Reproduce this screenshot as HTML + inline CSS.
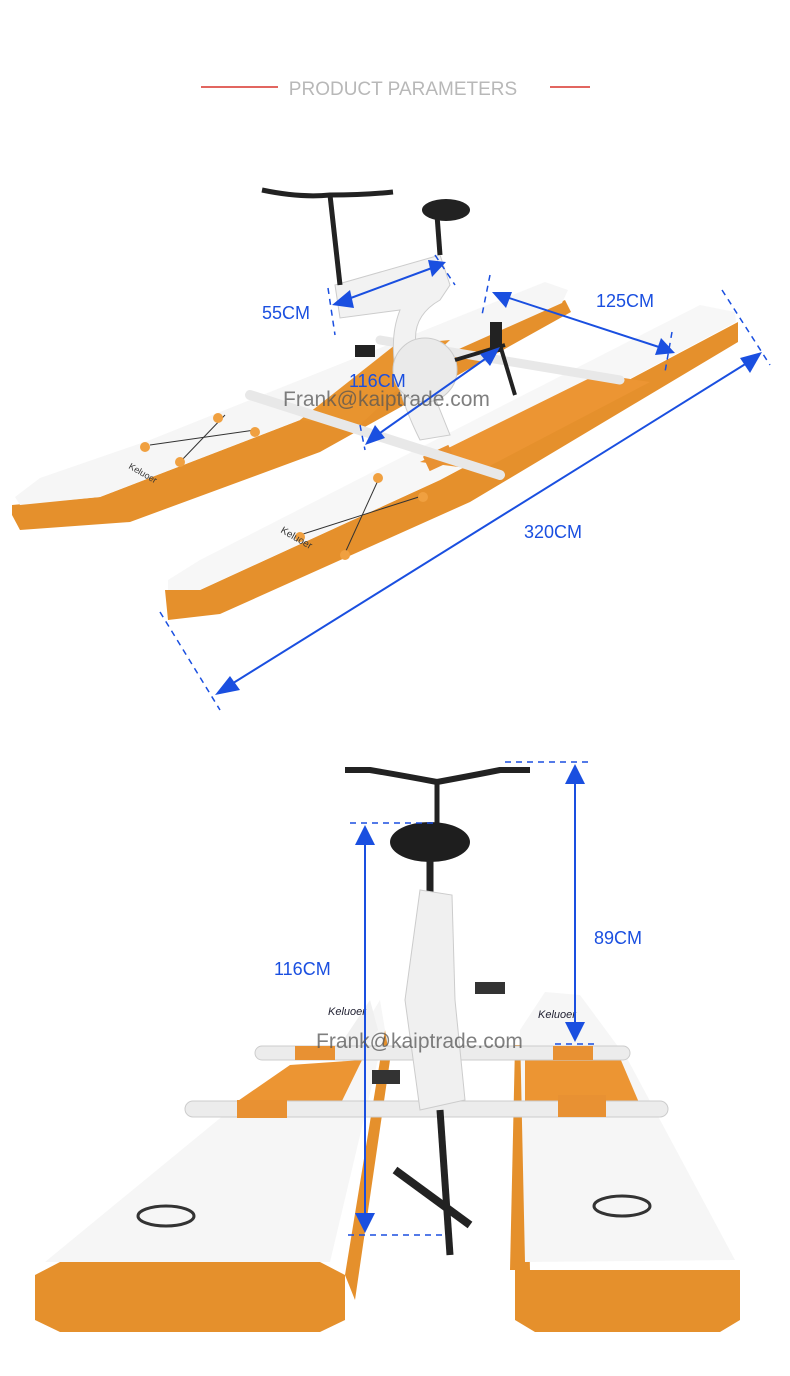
<!DOCTYPE html>
<html><head><meta charset="utf-8"><style>
html,body{margin:0;padding:0;background:#fff;}
svg{display:block;}
text{font-family:"Liberation Sans",sans-serif;}
</style></head><body>
<svg width="790" height="1376" viewBox="0 0 790 1376" xmlns="http://www.w3.org/2000/svg">
<rect width="790" height="1376" fill="#fff"/>
<!-- title -->
<line x1="201" y1="87" x2="278" y2="87" stroke="#d9342b" stroke-width="1.5"/>
<line x1="550" y1="87" x2="590" y2="87" stroke="#d9342b" stroke-width="1.5"/>
<text x="403" y="95" font-size="19" fill="#b8b8b8" text-anchor="middle">PRODUCT PARAMETERS</text>

<!-- TOP IMAGE -->
<!-- back pontoon -->
<polygon points="12,505 100,497 300,420 565,300 571,312 320,452 130,522 20,530 12,515" fill="#e5902c"/>
<polygon points="15,497 40,478 150,440 545,282 568,290 562,303 300,420 100,497 20,505" fill="#f6f6f6"/>
<polygon points="300,420 395,345 450,340 360,425" fill="#e8942f"/>
<!-- front pontoon -->
<polygon points="165,590 200,590 440,480 738,322 738,342 470,502 220,614 168,620" fill="#e5902c"/>
<polygon points="168,580 200,560 700,305 735,312 736,322 440,480 200,590 168,590" fill="#f7f7f7"/>
<polygon points="420,462 598,374 650,382 482,470" fill="#ec9533"/>
<rect x="425" y="450" width="28" height="16" fill="#e89133" transform="rotate(-25 439 458)"/>
<!-- rope X marks -->
<g stroke="#333" stroke-width="1">
<line x1="150" y1="445" x2="255" y2="430"/><line x1="180" y1="462" x2="225" y2="415"/>
<line x1="300" y1="535" x2="425" y2="495"/><line x1="345" y1="553" x2="380" y2="476"/>
</g>
<g fill="#f0a040">
<circle cx="218" cy="418" r="5"/><circle cx="255" cy="432" r="5"/><circle cx="145" cy="447" r="5"/><circle cx="180" cy="462" r="5"/>
<circle cx="378" cy="478" r="5"/><circle cx="423" cy="497" r="5"/><circle cx="300" cy="537" r="5"/><circle cx="345" cy="555" r="5"/>
</g>
<text x="128" y="468" font-size="9" fill="#333" transform="rotate(30 128 468)">Keluoer</text>
<text x="280" y="532" font-size="10" fill="#333" transform="rotate(30 280 532)">Keluoer</text>
<!-- cross bars -->
<line x1="250" y1="395" x2="500" y2="475" stroke="#e8e8e8" stroke-width="10" stroke-linecap="round"/>
<line x1="380" y1="340" x2="620" y2="380" stroke="#e8e8e8" stroke-width="9" stroke-linecap="round"/>
<!-- bike frame -->
<path d="M335,285 L440,255 L450,285 L440,300 Q405,320 420,360 L450,435 L420,440 Q380,360 400,310 L340,318 Z" fill="#f2f2f2" stroke="#ccc"/>
<circle cx="425" cy="370" r="32" fill="#eaeaea" stroke="#ccc"/>
<line x1="330" y1="195" x2="340" y2="285" stroke="#222" stroke-width="5"/>
<path d="M262,190 Q300,198 330,195 Q365,195 393,192" stroke="#222" stroke-width="5" fill="none"/>
<line x1="437" y1="215" x2="440" y2="255" stroke="#222" stroke-width="5"/>
<ellipse cx="446" cy="210" rx="24" ry="11" fill="#222"/>
<rect x="355" y="345" width="20" height="12" fill="#222"/><rect x="490" y="322" width="12" height="30" fill="#222"/>
<line x1="455" y1="360" x2="505" y2="345" stroke="#222" stroke-width="4"/>
<line x1="500" y1="345" x2="515" y2="395" stroke="#222" stroke-width="4"/>
<!-- dimension lines top -->
<g stroke="#1a4fe0" stroke-width="2" fill="none">
<line x1="340" y1="302" x2="440" y2="265"/>
<line x1="500" y1="295" x2="668" y2="350"/>
<line x1="370" y1="440" x2="495" y2="352"/>
<line x1="222" y1="690" x2="755" y2="358"/>
</g>
<g stroke="#1a4fe0" stroke-width="1.5" stroke-dasharray="6,5">
<line x1="328" y1="288" x2="335" y2="335"/><line x1="435" y1="255" x2="455" y2="285"/>
<line x1="490" y1="275" x2="482" y2="315"/><line x1="672" y1="332" x2="665" y2="372"/>
<line x1="160" y1="612" x2="220" y2="710"/><line x1="722" y1="290" x2="770" y2="365"/>
<line x1="360" y1="425" x2="365" y2="450"/>
</g>
<g fill="#1a4fe0">
<polygon points="332,305 350,290 354,308"/><polygon points="446,262 428,260 432,277"/>
<polygon points="492,292 512,292 506,308"/><polygon points="675,353 655,355 661,338"/>
<polygon points="365,445 375,425 385,438"/><polygon points="500,347 480,354 490,366"/>
<polygon points="215,695 230,676 240,690"/><polygon points="762,352 740,358 750,373"/>
</g>
<g font-size="18" fill="#1a4fe0">
<text x="262" y="319">55CM</text>
<text x="596" y="307">125CM</text>
<text x="349" y="387">116CM</text>
<text x="524" y="538">320CM</text>
</g>
<text x="283" y="406" font-size="21" fill="#555" opacity="0.75">Frank@kaiptrade.com</text>

<!-- BOTTOM IMAGE -->
<!-- left pontoon -->
<polygon points="35,1275 60,1262 320,1262 345,1275 345,1320 320,1332 60,1332 35,1320" fill="#e5902c"/>
<polygon points="345,1275 385,1030 390,1060 355,1300" fill="#e5902c"/>
<polygon points="45,1262 230,1110 340,1065 380,1000 385,1030 330,1262" fill="#f6f6f6"/>
<polygon points="232,1105 290,1065 362,1060 340,1105" fill="#ec9533"/>
<!-- right pontoon -->
<polygon points="515,1270 740,1270 740,1320 720,1332 535,1332 515,1320" fill="#e5902c"/>
<polygon points="515,1045 510,1270 530,1270 525,1045" fill="#e5902c"/>
<polygon points="520,1030 545,992 580,995 628,1060 735,1260 525,1262" fill="#f6f6f6"/>
<polygon points="525,1060 620,1058 640,1105 525,1105" fill="#ec9533"/>
<polygon points="370,1000 378,1030 355,1060 330,1060" fill="#f0f0f0"/>
<!-- logos -->
<ellipse cx="166" cy="1216" rx="28" ry="10" fill="none" stroke="#333" stroke-width="3"/>
<ellipse cx="622" cy="1206" rx="28" ry="10" fill="none" stroke="#333" stroke-width="3"/>
<text x="328" y="1015" font-size="11" fill="#223" font-style="italic">Keluoer</text>
<text x="538" y="1018" font-size="11" fill="#223" font-style="italic">Keluoer</text>
<!-- bars -->
<rect x="255" y="1046" width="375" height="14" rx="7" fill="#ececec" stroke="#ccc"/>
<rect x="185" y="1101" width="483" height="16" rx="8" fill="#ececec" stroke="#ccc"/>
<rect x="237" y="1100" width="50" height="18" fill="#e89133"/>
<rect x="558" y="1095" width="48" height="22" fill="#e89133"/>
<rect x="295" y="1046" width="40" height="14" fill="#e89133"/>
<rect x="553" y="1046" width="40" height="14" fill="#e89133"/>
<!-- bike -->
<path d="M345,770 L370,770 Q400,775 437,782 Q475,775 500,770 L530,770" stroke="#222" stroke-width="6" fill="none"/>
<line x1="437" y1="780" x2="437" y2="830" stroke="#222" stroke-width="5"/>
<ellipse cx="430" cy="842" rx="40" ry="20" fill="#1e1e1e"/>
<line x1="430" y1="860" x2="430" y2="900" stroke="#222" stroke-width="7"/>
<path d="M420,890 L452,895 L455,1000 L465,1100 L420,1110 L405,1000 Z" fill="#f0f0f0" stroke="#ccc"/>
<line x1="440" y1="1110" x2="450" y2="1255" stroke="#222" stroke-width="7"/>
<line x1="395" y1="1170" x2="470" y2="1225" stroke="#222" stroke-width="8"/>
<rect x="475" y="982" width="30" height="12" fill="#333"/><rect x="372" y="1070" width="28" height="14" fill="#333"/>
<!-- dims bottom -->
<g stroke="#1a4fe0" stroke-width="2">
<line x1="365" y1="840" x2="365" y2="1220"/>
<line x1="575" y1="778" x2="575" y2="1030"/>
</g>
<g stroke="#1a4fe0" stroke-width="1.5" stroke-dasharray="6,5">
<line x1="350" y1="823" x2="438" y2="823"/><line x1="348" y1="1235" x2="445" y2="1235"/>
<line x1="505" y1="762" x2="592" y2="762"/><line x1="555" y1="1044" x2="595" y2="1044"/>
</g>
<g fill="#1a4fe0">
<polygon points="365,825 355,845 375,845"/><polygon points="365,1233 355,1213 375,1213"/>
<polygon points="575,764 565,784 585,784"/><polygon points="575,1042 565,1022 585,1022"/>
</g>
<g font-size="18" fill="#1a4fe0">
<text x="274" y="975">116CM</text>
<text x="594" y="944">89CM</text>
</g>
<text x="316" y="1048" font-size="21" fill="#555" opacity="0.75">Frank@kaiptrade.com</text>
</svg>
</body></html>
